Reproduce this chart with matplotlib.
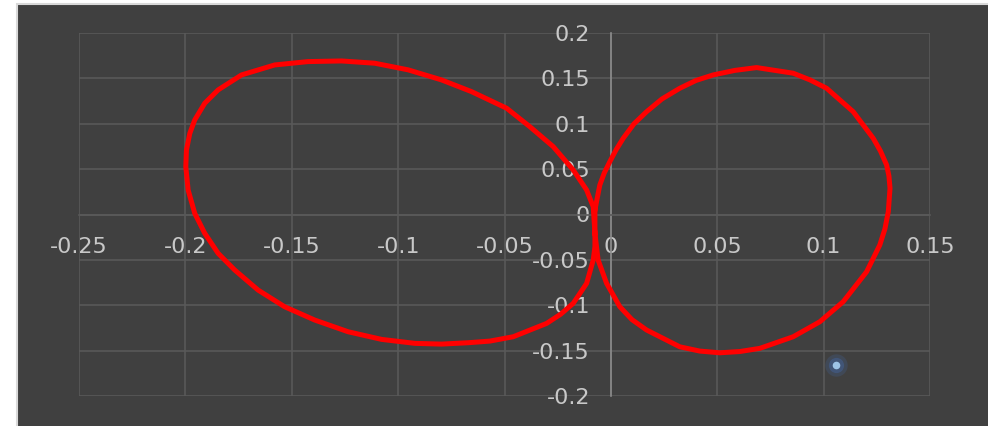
import numpy as np
import matplotlib.pyplot as plt
from matplotlib.patches import Rectangle

# punten: linker lus en rechter lus
left_x = [-0.0075, -0.0083, -0.0114, -0.0177, -0.0271, -0.0381, -0.0490, -0.0655,
          -0.0796, -0.0953, -0.1110, -0.1266, -0.1423, -0.1580, -0.1736, -0.1846,
          -0.1909, -0.1956, -0.1979, -0.1995, -0.1998, -0.1987, -0.1956, -0.1909,
          -0.1846, -0.1768, -0.1658, -0.1533, -0.1392, -0.1235, -0.1078, -0.0921,
          -0.0796, -0.0671, -0.0569, -0.0459, -0.0302, -0.0235, -0.0177, -0.0114,
          -0.0083, -0.0075, -0.0075]
left_y = [-0.0204, 0.0086, 0.0270, 0.0491, 0.0748, 0.0968, 0.1171, 0.1354,
          0.1483, 0.1594, 0.1667, 0.1692, 0.1685, 0.1648, 0.1538, 0.1373,
          0.1226, 0.1042, 0.0895, 0.0711, 0.0527, 0.0270, 0.0013, -0.0207,
          -0.0428, -0.0612, -0.0833, -0.1017, -0.1163, -0.1292, -0.1376, -0.1420,
          -0.1428, -0.1413, -0.1395, -0.1347, -0.1200, -0.1097, -0.0979, -0.0759,
          -0.0502, -0.0355, -0.0204]

right_x = [-0.0075, -0.0052, -0.0031, -0.0005, 0.0024, 0.0058, 0.0108, 0.0168,
           0.0240, 0.0324, 0.0400, 0.0481, 0.0583, 0.0685, 0.0857, 0.0936,
           0.1014, 0.1139, 0.1233, 0.1267, 0.1296, 0.1307, 0.1312, 0.1304,
           0.1288, 0.1264, 0.1202, 0.1092, 0.0982, 0.0857, 0.0700, 0.0606,
           0.0512, 0.0418, 0.0324, 0.0168, 0.0099, 0.0042, -0.0020, -0.0060,
           -0.0075, -0.0075]
right_y = [0.0050, 0.0325, 0.0458, 0.0582, 0.0711, 0.0840, 0.0998, 0.1133,
           0.1273, 0.1391, 0.1477, 0.1538, 0.1588, 0.1619, 0.1557, 0.1483,
           0.1391, 0.1133, 0.0840, 0.0700, 0.0546, 0.0424, 0.0289, 0.0031,
           -0.0160, -0.0336, -0.0631, -0.0961, -0.1182, -0.1347, -0.1475, -0.1510,
           -0.1524, -0.1505, -0.1458, -0.1273, -0.1158, -0.1016, -0.0759, -0.0502,
           -0.0207, 0.0050]

# los punt (tweede reeks)
punt_x = [0.1058]
punt_y = [-0.166]

xticks = [-0.25, -0.2, -0.15, -0.1, -0.05, 0, 0.05, 0.1, 0.15]
yticks = [-0.2, -0.15, -0.1, -0.05, 0, 0.05, 0.1, 0.15, 0.2]
xlabels = ["-0.25", "-0.2", "-0.15", "-0.1", "-0.05", "0", "0.05", "0.1", "0.15"]
ylabels = ["-0.2", "-0.15", "-0.1", "-0.05", "0", "0.05", "0.1", "0.15", "0.2"]

bg = "#404040"
txt = "#c8c8c8"

fig = plt.figure(figsize=(9.88, 4.26), dpi=100)
fig.patch.set_facecolor("white")
fig.patches.append(Rectangle((16.5 / 988, -0.02), 1.0, (426 - 4) / 426 + 0.02,
                             transform=fig.transFigure, facecolor=bg,
                             edgecolor="#d9d9d9", linewidth=1.5, zorder=-10))

ax = fig.add_axes([79 / 988, 1 - 396 / 426, (930 - 79) / 988, (396 - 33) / 426])
ax.set_facecolor(bg)
ax.set_xlim(-0.25, 0.15)
ax.set_ylim(-0.2, 0.2)

ax.set_xticks(xticks)
ax.set_xticklabels(xlabels)
ax.set_yticks(yticks)
ax.set_yticklabels(ylabels)
ax.grid(True, color="#595959", linewidth=1.2)
ax.set_axisbelow(True)

for s in ["top", "right"]:
    ax.spines[s].set_visible(False)
ax.spines["left"].set_position(("data", 0))
ax.spines["left"].set_color("#8c8c8c")
ax.spines["left"].set_linewidth(1.2)
ax.spines["bottom"].set_position(("data", 0))
ax.spines["bottom"].set_color("#595959")
ax.spines["bottom"].set_linewidth(1.2)

ax.tick_params(axis="x", length=0, pad=16, labelsize=16, labelcolor=txt)
ax.tick_params(axis="y", length=0, pad=15, labelsize=16, labelcolor=txt)

ax.plot(left_x, left_y, color="#ff0000", linewidth=3.6, solid_joinstyle="round", zorder=3)
ax.plot(right_x, right_y, color="#ff0000", linewidth=3.6, solid_joinstyle="round", zorder=3)

# punt met gloed
ax.scatter(punt_x, punt_y, s=260, color="#4472c4", alpha=0.18, linewidths=0, zorder=4)
ax.scatter(punt_x, punt_y, s=120, color="#4472c4", alpha=0.3, linewidths=0, zorder=4)
ax.scatter(punt_x, punt_y, s=30, color="#9dc3e6", linewidths=0, zorder=5)

fig.savefig("out.png", dpi=100, facecolor=fig.get_facecolor())
